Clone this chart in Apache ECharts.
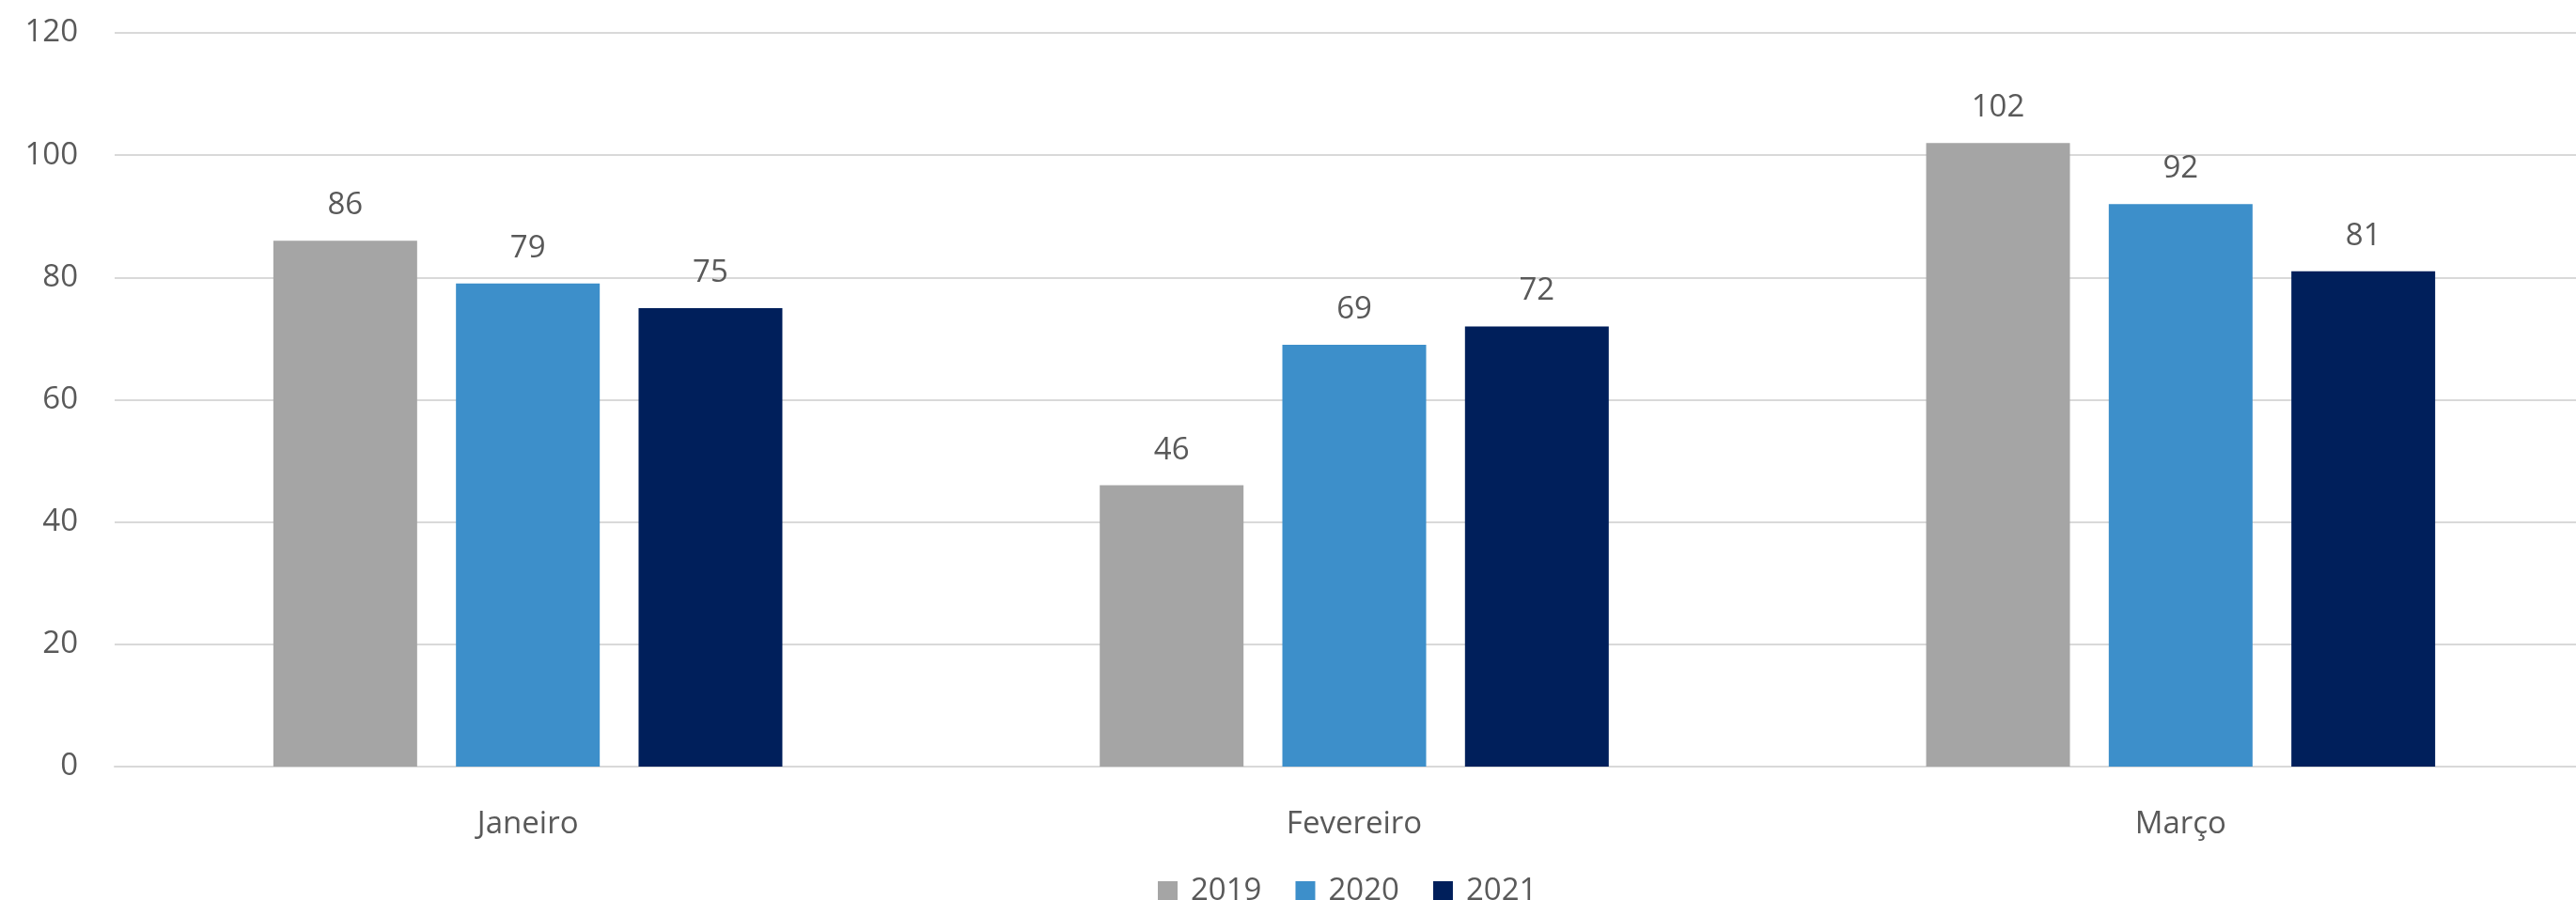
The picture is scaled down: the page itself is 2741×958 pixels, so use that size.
<!DOCTYPE html>
<html>
<head>
<meta charset="utf-8">
<script src="https://cdn.jsdelivr.net/npm/echarts@6/dist/echarts.min.js"></script>
<style>
html,body{margin:0;padding:0;background:#fff;overflow:hidden;}
#chart{width:2760px;height:958px;}
</style>
</head>
<body>
<div id="chart"></div>
<script>
const categories = ['Janeiro', 'Fevereiro', 'Março'];
const seriesNames = ['2019', '2020', '2021'];
const values2019 = [86, 46, 102];
const values2020 = [79, 69, 92];
const values2021 = [75, 72, 81];
const colors = ['#A5A5A5', '#3D8FCA', '#001F5B'];

const font = '"Open Sans", "Noto Sans", sans-serif';
const textColor = '#595959';
const allValues = [values2019, values2020, values2021];

const chart = echarts.init(document.getElementById('chart'), null, {renderer: 'canvas'});
chart.setOption({
  backgroundColor: '#ffffff',
  animation: false,
  grid: {left: 122, top: 35, right: 0, height: 781, containLabel: false},
  legend: {
    data: seriesNames,
    left: 1227,
    top: 927,
    itemWidth: 21,
    itemHeight: 21,
    itemGap: 36,
    icon: 'rect',
    textStyle: {fontFamily: font, fontSize: 33, color: textColor, padding: [0, 0, 0, 9]}
  },
  xAxis: {
    type: 'category',
    data: categories,
    axisLine: {show: true, lineStyle: {color: '#D9D9D9', width: 2}},
    axisTick: {show: false},
    axisLabel: {fontFamily: font, fontSize: 33, color: textColor, margin: 45}
  },
  yAxis: {
    type: 'value',
    min: 0,
    max: 120,
    interval: 20,
    axisLine: {show: false},
    axisTick: {show: false},
    splitLine: {lineStyle: {color: '#D9D9D9', width: 2}},
    axisLabel: {fontFamily: font, fontSize: 33, color: textColor, margin: 39}
  },
  series: seriesNames.map((name, i) => ({
    name: name,
    type: 'bar',
    data: allValues[i],
    barWidth: 153,
    barGap: '27%',
    itemStyle: {color: colors[i]},
    label: {show: true, position: 'top', distance: 21, fontFamily: font, fontSize: 33, color: textColor}
  }))
});
</script>
</body>
</html>
